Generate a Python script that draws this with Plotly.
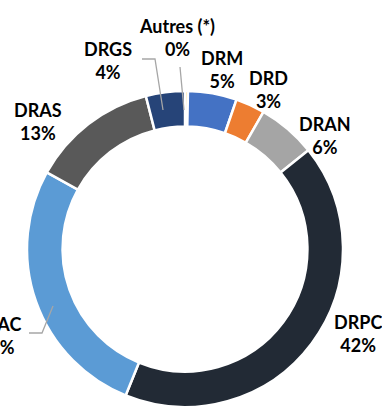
import plotly.graph_objects as go

# Share of each regional directorate
labels = ["Autres (*)", "DRM", "DRD", "DRAN", "DRPC", "DRAC", "DRAS", "DRGS"]
values = [0.3, 5, 3, 6, 42, 27, 13, 4]
colors = ["#FFC000", "#4472C4", "#ED7D31", "#A5A5A5", "#222A35", "#5B9BD5", "#595959", "#264478"]

# Label anchor positions in pixels (centre of the two-line label)
label_x = [177, 222, 268, 325, 358, -4, 38, 108]
label_y = [37, 70, 90, 135, 333, 335, 122, 60]

W, H = 382, 407
total = sum(values)
pct = [round(v / total * 100) for v in values]

fig = go.Figure()

# Donut: centre ~ (185, 249), radius ~158 px
cx, cy, r = 185, 249, 158
fig.add_trace(go.Pie(
    labels=labels,
    values=values,
    marker=dict(colors=colors, line=dict(color="white", width=2.5)),
    hole=0.775,
    sort=False,
    direction="clockwise",
    rotation=0,
    textinfo="none",
    hoverinfo="label+percent",
    showlegend=False,
    domain=dict(x=[(cx - r) / W, (cx + r) / W], y=[(H - cy - r) / H, (H - cy + r) / H]),
))

# Invisible pixel-space axes for leader lines
fig.add_trace(go.Scatter(x=[0, W], y=[0, H], mode="markers", marker=dict(opacity=0),
                         hoverinfo="skip", showlegend=False))

# Labels in paper coordinates so that partly off-page labels are still drawn
for lab, p, x, y in zip(labels, pct, label_x, label_y):
    fig.add_annotation(x=x / W, y=1 - y / H, xref="paper", yref="paper", showarrow=False,
                       text=f"<b>{lab}<br>{p}%</b>", align="center",
                       font=dict(family="Lato", size=18, color="black"),
                       xanchor="center", yanchor="middle")

leader = dict(color="#A6A6A6", width=1.3)
# DRGS leader
fig.add_shape(type="path", path="M 142 59 L 155 59 L 163 110", line=leader, xref="x", yref="y")
# Autres leader
fig.add_shape(type="path", path="M 180 67 L 184 110", line=leader, xref="x", yref="y")
# DRAC leader
fig.add_shape(type="path", path="M 29 333 L 42 333 L 53 306", line=leader, xref="x", yref="y")

fig.update_layout(
    width=W, height=H,
    margin=dict(l=0, r=0, t=0, b=0),
    paper_bgcolor="white", plot_bgcolor="rgba(0,0,0,0)",
    xaxis=dict(range=[0, W], visible=False, fixedrange=True),
    yaxis=dict(range=[H, 0], visible=False, fixedrange=True),
)

fig.write_html("out.html")
